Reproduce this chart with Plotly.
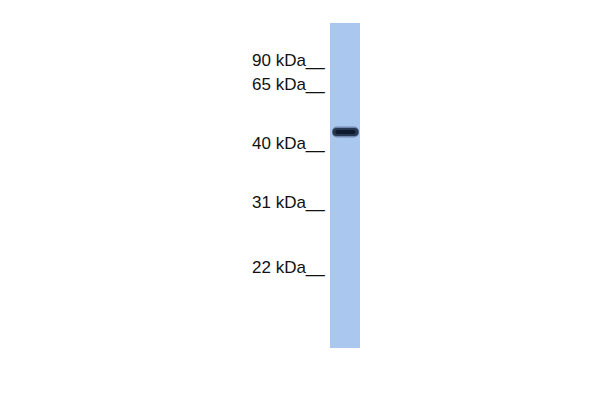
import plotly.graph_objects as go

# Molecular-weight ladder labels and their migration positions (px from top of image)
mw_labels = ["90 kDa", "65 kDa", "40 kDa", "31 kDa", "22 kDa"]
mw_migration = [60, 84, 143, 202, 267]

# Lane extent (migration from top) and detected band
lane_names = ["lane1"]
lane_start = [23]
lane_end = [348]
band_center = [132]
band_thickness = [11]

LANE_X = 345
LANE_W = 30
OFF = 8  # page body margin in the browser

fig = go.Figure()

# Lane background
fig.add_trace(go.Bar(
    x=[LANE_X] * len(lane_names),
    base=lane_start,
    y=[e - s for s, e in zip(lane_start, lane_end)],
    width=LANE_W,
    marker=dict(color="#aac7ef", line=dict(width=0)),
    hoverinfo="skip", showlegend=False,
))

# Band: soft halo, body and dense core
for shrink_h, w, col in [(0, 27, "#7088ad"), (1.5, 26, "#263852"), (3.5, 20, "#0f1a2d")]:
    fig.add_trace(go.Bar(
        x=[LANE_X + 0.5],
        base=[c - t / 2 + shrink_h for c, t in zip(band_center, band_thickness)],
        y=[t - 2 * shrink_h for t in band_thickness],
        width=w,
        marker=dict(color=col, line=dict(width=0), cornerradius="50%"),
        hoverinfo="skip", showlegend=False,
    ))

# Ladder labels
for lab, y in zip(mw_labels, mw_migration):
    fig.add_annotation(
        x=324, y=y, text=lab + "__", showarrow=False,
        xanchor="right", yanchor="middle", xshift=3, yshift=0,
        font=dict(family="Liberation Sans, Arial, sans-serif", size=17, color="#111111"),
    )

fig.update_layout(
    width=600 - OFF, height=400 - OFF,
    margin=dict(l=0, r=0, t=0, b=0),
    paper_bgcolor="white", plot_bgcolor="white",
    barmode="overlay",
    xaxis=dict(range=[OFF, 600], visible=False, fixedrange=True),
    yaxis=dict(range=[400, OFF], visible=False, fixedrange=True),
)

fig.write_html("out.html")
